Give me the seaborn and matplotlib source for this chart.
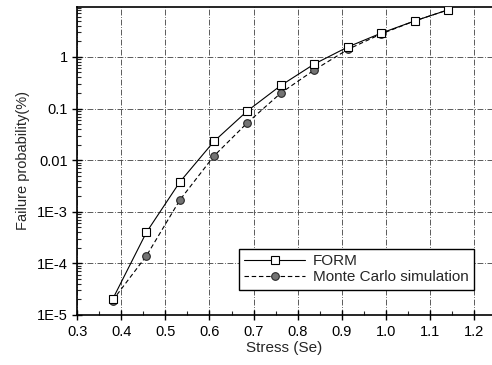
import matplotlib
matplotlib.use("Agg")
import matplotlib.pyplot as plt
import seaborn as sns
import pandas as pd
import numpy as np
from matplotlib.ticker import FixedLocator, FixedFormatter, LogLocator, NullFormatter, MultipleLocator

stress = [0.38, 0.457, 0.533, 0.61, 0.686, 0.762, 0.838, 0.914, 0.99, 1.066, 1.142]
form = [2.0e-5, 4.0e-4, 3.8e-3, 2.3e-2, 0.09, 0.28, 0.73, 1.56, 2.9, 5.0, 8.2]
monte_carlo = [1.9e-5, 1.4e-4, 1.7e-3, 1.2e-2, 0.053, 0.2, 0.56, 1.4, 2.8, 5.0, 8.2]
x_ticks = [0.3, 0.4, 0.5, 0.6, 0.7, 0.8, 0.9, 1.0, 1.1, 1.2]
x_labels = ["0.3", "0.4", "0.5", "0.6", "0.7", "0.8", "0.9", "1.0", "1.1", "1.2"]
y_ticks = [1e-5, 1e-4, 1e-3, 1e-2, 1e-1, 1]
y_labels = ["1E-5", "1E-4", "1E-3", "0.01", "0.1", "1"]

sns.set_style("white")
plt.rcParams['font.family'] = ['Liberation Sans', 'DejaVu Sans']

df_form = pd.DataFrame({"Stress": stress, "P": form})
df_mc = pd.DataFrame({"Stress": stress, "P": monte_carlo})

fig = plt.figure(figsize=(4.92, 3.65), dpi=100)
ax = fig.add_axes([0.157, 0.137, 0.843, 0.844])

sns.lineplot(data=df_form, x="Stress", y="P", ax=ax, color="black", lw=0.8,
             marker="s", markersize=5.5, markerfacecolor="white",
             markeredgecolor="black", markeredgewidth=0.8, label="FORM", zorder=4)
sns.lineplot(data=df_mc, x="Stress", y="P", ax=ax, color="black", lw=0.8,
             linestyle=(0, (4, 2.5)), marker="o", markersize=5.5,
             markerfacecolor="0.45", markeredgecolor="0.15", markeredgewidth=0.8,
             label="Monte Carlo simulation", zorder=3)

ax.set_yscale("log")
ax.set_xlim(0.3, 1.241)
ax.set_ylim(1e-5, 9.3)

ax.xaxis.set_major_locator(FixedLocator(x_ticks))
ax.xaxis.set_major_formatter(FixedFormatter(x_labels))
ax.xaxis.set_minor_locator(MultipleLocator(0.05))
ax.yaxis.set_major_locator(FixedLocator(y_ticks))
ax.yaxis.set_major_formatter(FixedFormatter(y_labels))
ax.yaxis.set_minor_locator(LogLocator(base=10, subs=np.arange(2, 10)))
ax.yaxis.set_minor_formatter(NullFormatter())

ax.tick_params(axis="both", which="major", direction="inout", length=7, width=1.0,
               labelsize=10.5, colors="black", left=True, bottom=True)
ax.tick_params(axis="both", which="minor", direction="in", length=3, width=0.8,
               left=True, bottom=True)

ax.grid(True, which="major", color="0.25", lw=0.6, linestyle=(0, (7, 2, 1, 2)))

for side in ["left", "bottom", "top"]:
    ax.spines[side].set_visible(True)
    ax.spines[side].set_color("black")
    ax.spines[side].set_linewidth(1.2)
ax.spines["right"].set_visible(False)

ax.set_xlabel("Stress (Se)", fontsize=11, labelpad=2)
ax.set_ylabel("Failure probability(%)", fontsize=10.5, labelpad=5)

leg = ax.legend(loc="lower right", bbox_to_anchor=(0.957, 0.082), fontsize=11,
                frameon=True, fancybox=False, edgecolor="black", handlelength=4.0,
                borderpad=0.35, labelspacing=0.15, handletextpad=0.5,
                borderaxespad=0)
leg.get_frame().set_linewidth(1.0)
leg.get_frame().set_alpha(1)

fig.savefig("out.png", dpi=100)
